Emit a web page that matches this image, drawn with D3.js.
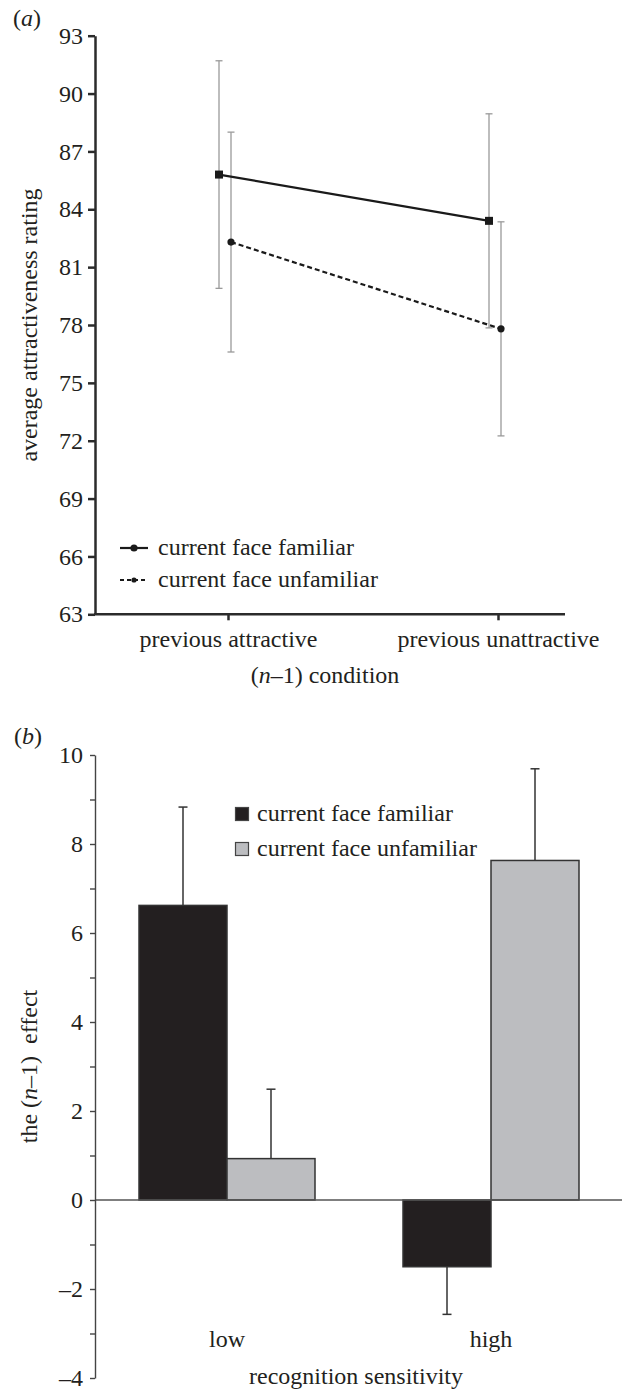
<!DOCTYPE html>
<html>
<head>
<meta charset="utf-8">
<script src="https://cdn.jsdelivr.net/npm/d3@7"></script>
<style>
body { margin: 0; background: #fff; }
text { font-family: "Liberation Serif", "Times New Roman", serif; font-size: 24px; fill: #231f20; }
</style>
</head>
<body>
<script>
// panel (a): mean ratings by previous-face condition
var conditions = ["previous attractive", "previous unattractive"];
var seriesA = ["current face familiar", "current face unfamiliar"];
var familiarMean = [85.8, 83.4];
var familiarErr = [5.9, 5.55];
var unfamiliarMean = [82.3, 77.8];
var unfamiliarErr = [5.7, 5.55];
var ticksA = [63, 66, 69, 72, 75, 78, 81, 84, 87, 90, 93];

// panel (b): size of the (n-1) effect
var sensitivity = ["low", "high"];
var seriesB = ["current face familiar", "current face unfamiliar"];
var effectFamiliar = [6.62, -1.5];
var effectFamiliarErr = [2.21, 1.07];
var effectUnfamiliar = [0.93, 7.63];
var effectUnfamiliarErr = [1.56, 2.06];
var ticksB = [-4, -3, -2, -1, 0, 1, 2, 3, 4, 5, 6, 7, 8, 9, 10];

var W = 622, H = 1391;

var svg = d3.select("body")
  .append("svg")
  .attr("width", W)
  .attr("height", H);

// ---------- panel (a) ----------
var ax0 = 95, ax1 = 565;
var ya = d3.scaleLinear().domain([63, 93]).range([614.3, 35.7]);
var xa = d3.scalePoint().domain(conditions).range([228, 498]);

var gA = svg.append("g");

gA.append("text")
  .attr("x", 13).attr("y", 26)
  .html("(<tspan font-style='italic'>a</tspan>)");

var yAxisA = gA.append("g")
  .attr("transform", "translate(" + ax0 + ",0)")
  .call(d3.axisLeft(ya).tickValues(ticksA).tickSize(7).tickPadding(5).tickSizeOuter(0));
yAxisA.selectAll("path, line").attr("stroke", "#2b2b2b").attr("stroke-width", 2.5);
yAxisA.selectAll("text").attr("font-size", null).attr("font-family", null);

var xAxisA = gA.append("g")
  .attr("transform", "translate(0," + ya(63) + ")")
  .call(d3.axisBottom(xa).tickSize(6).tickPadding(10).tickSizeOuter(0));
xAxisA.select(".domain").remove();
xAxisA.selectAll("line").attr("stroke", "#2b2b2b").attr("stroke-width", 2.5);
xAxisA.selectAll("text").attr("font-size", null).attr("font-family", null);
gA.append("line")
  .attr("x1", ax0 - 1).attr("x2", ax1)
  .attr("y1", ya(63)).attr("y2", ya(63))
  .attr("stroke", "#2b2b2b").attr("stroke-width", 2.5);

gA.append("text")
  .attr("transform", "translate(37," + ya(78) + ") rotate(-90)")
  .attr("text-anchor", "middle")
  .text("average attractiveness rating");

gA.append("text")
  .attr("x", 325).attr("y", 683)
  .attr("text-anchor", "middle")
  .html("(<tspan font-style='italic'>n</tspan>–1) condition");

var linesA = [
  { name: seriesA[0], mean: familiarMean, err: familiarErr, dx: -9, dash: null, marker: "square" },
  { name: seriesA[1], mean: unfamiliarMean, err: unfamiliarErr, dx: 3, dash: "5,3", marker: "circle" }
];

// error bars first, lines on top
linesA.forEach(function(s) {
  var eb = gA.append("g").selectAll("g")
    .data(conditions)
    .enter()
    .append("g");
  eb.append("line")
    .attr("x1", function(d) { return xa(d) + s.dx; })
    .attr("x2", function(d) { return xa(d) + s.dx; })
    .attr("y1", function(d, i) { return ya(s.mean[i] + s.err[i]); })
    .attr("y2", function(d, i) { return ya(s.mean[i] - s.err[i]); })
    .attr("stroke", "#9a9a9a").attr("stroke-width", 1.3);
  [1, -1].forEach(function(sign) {
    eb.append("line")
      .attr("x1", function(d) { return xa(d) + s.dx - 3.5; })
      .attr("x2", function(d) { return xa(d) + s.dx + 3.5; })
      .attr("y1", function(d, i) { return ya(s.mean[i] + sign * s.err[i]); })
      .attr("y2", function(d, i) { return ya(s.mean[i] + sign * s.err[i]); })
      .attr("stroke", "#9a9a9a").attr("stroke-width", 1.3);
  });
});

linesA.forEach(function(s) {
  var line = d3.line()
    .x(function(d, i) { return xa(conditions[i]) + s.dx; })
    .y(function(d) { return ya(d); });
  gA.append("path")
    .datum(s.mean)
    .attr("d", line)
    .attr("fill", "none")
    .attr("stroke", "#1a1a1a")
    .attr("stroke-width", 2.2)
    .attr("stroke-dasharray", s.dash);
  if (s.marker === "square") {
    gA.selectAll(null)
      .data(s.mean)
      .enter()
      .append("rect")
      .attr("x", function(d, i) { return xa(conditions[i]) + s.dx - 4; })
      .attr("y", function(d) { return ya(d) - 4; })
      .attr("width", 8).attr("height", 8)
      .attr("fill", "#1a1a1a");
  } else {
    gA.selectAll(null)
      .data(s.mean)
      .enter()
      .append("circle")
      .attr("cx", function(d, i) { return xa(conditions[i]) + s.dx; })
      .attr("cy", function(d) { return ya(d); })
      .attr("r", 3.6)
      .attr("fill", "#1a1a1a");
  }
});

// legend (a)
var legA = gA.append("g").selectAll("g")
  .data(linesA)
  .enter()
  .append("g")
  .attr("transform", function(d, i) { return "translate(0," + (548 + i * 32) + ")"; });
legA.append("line")
  .attr("x1", 120).attr("x2", 148)
  .attr("stroke", "#1a1a1a").attr("stroke-width", 2.2)
  .attr("stroke-dasharray", function(d) { return d.dash ? "4,3" : null; });
legA.append("circle")
  .attr("cx", 134).attr("r", function(d, i) { return i === 0 ? 3.6 : 2.6; })
  .attr("fill", "#1a1a1a");
legA.append("text")
  .attr("x", 158).attr("y", 6.5)
  .text(function(d) { return d.name; });

// ---------- panel (b) ----------
var yb = d3.scaleLinear().domain([-4, 10]).range([1378, 755]);
var xb = d3.scaleBand().domain(sensitivity).range([95, 623]).paddingInner(1 / 3).paddingOuter(1 / 6);
var xb1 = d3.scaleBand().domain(seriesB).range([0, xb.bandwidth()]);
var colorB = d3.scaleOrdinal().domain(seriesB).range(["#231f20", "#bcbdc0"]);

var gB = svg.append("g");

gB.append("text")
  .attr("x", 14).attr("y", 744)
  .html("(<tspan font-style='italic'>b</tspan>)");

var bars = [];
sensitivity.forEach(function(c, i) {
  bars.push({ cat: c, series: seriesB[0], value: effectFamiliar[i], err: effectFamiliarErr[i] });
  bars.push({ cat: c, series: seriesB[1], value: effectUnfamiliar[i], err: effectUnfamiliarErr[i] });
});

gB.selectAll("rect.bar")
  .data(bars)
  .enter()
  .append("rect")
  .attr("class", "bar")
  .attr("x", function(d) { return xb(d.cat) + xb1(d.series); })
  .attr("y", function(d) { return yb(Math.max(0, d.value)); })
  .attr("width", xb1.bandwidth())
  .attr("height", function(d) { return Math.abs(yb(d.value) - yb(0)); })
  .attr("fill", function(d) { return colorB(d.series); })
  .attr("stroke", "#333")
  .attr("stroke-width", 1.5);

var ebB = gB.selectAll("g.err")
  .data(bars)
  .enter()
  .append("g")
  .attr("class", "err");
ebB.append("line")
  .attr("x1", function(d) { return xb(d.cat) + xb1(d.series) + xb1.bandwidth() / 2; })
  .attr("x2", function(d) { return xb(d.cat) + xb1(d.series) + xb1.bandwidth() / 2; })
  .attr("y1", function(d) { return yb(d.value); })
  .attr("y2", function(d) { return yb(d.value + (d.value < 0 ? -d.err : d.err)); })
  .attr("stroke", "#333").attr("stroke-width", 1.5);
ebB.append("line")
  .attr("x1", function(d) { return xb(d.cat) + xb1(d.series) + xb1.bandwidth() / 2 - 4.5; })
  .attr("x2", function(d) { return xb(d.cat) + xb1(d.series) + xb1.bandwidth() / 2 + 4.5; })
  .attr("y1", function(d) { return yb(d.value + (d.value < 0 ? -d.err : d.err)); })
  .attr("y2", function(d) { return yb(d.value + (d.value < 0 ? -d.err : d.err)); })
  .attr("stroke", "#333").attr("stroke-width", 1.5);

// zero line
gB.append("line")
  .attr("x1", 95).attr("x2", W)
  .attr("y1", yb(0)).attr("y2", yb(0))
  .attr("stroke", "#555").attr("stroke-width", 1.6);

var yAxisB = gB.append("g")
  .attr("transform", "translate(95,0)")
  .call(d3.axisLeft(yb).tickValues(ticksB).tickSize(5).tickPadding(7).tickSizeOuter(0)
    .tickFormat(function(d) { return d % 2 === 0 ? (d < 0 ? "–" + Math.abs(d) : d) : ""; }));
yAxisB.selectAll("path, line").attr("stroke", "#444").attr("stroke-width", 1.4);
yAxisB.selectAll("text").attr("font-size", null).attr("font-family", null).attr("dy", "0.3em");

gB.selectAll("text.cat")
  .data(sensitivity)
  .enter()
  .append("text")
  .attr("class", "cat")
  .attr("x", function(d) { return xb(d) + xb.bandwidth() / 2; })
  .attr("y", 1347)
  .attr("text-anchor", "middle")
  .text(function(d) { return d; });

gB.append("text")
  .attr("x", 356).attr("y", 1384)
  .attr("text-anchor", "middle")
  .text("recognition sensitivity");

gB.append("text")
  .attr("transform", "translate(37," + yb(3) + ") rotate(-90)")
  .attr("text-anchor", "middle")
  .style("white-space", "pre")
  .html("the (<tspan font-style='italic'>n</tspan>–1)  effect");

// legend (b)
var legB = gB.append("g").selectAll("g")
  .data(seriesB)
  .enter()
  .append("g")
  .attr("transform", function(d, i) { return "translate(0," + (814 + i * 35) + ")"; });
legB.append("rect")
  .attr("x", 235.5).attr("y", -6.5)
  .attr("width", 13).attr("height", 13)
  .attr("fill", function(d) { return colorB(d); })
  .attr("stroke", "#444").attr("stroke-width", 1.2);
legB.append("text")
  .attr("x", 257).attr("y", 7)
  .text(function(d) { return d; });
</script>
</body>
</html>
